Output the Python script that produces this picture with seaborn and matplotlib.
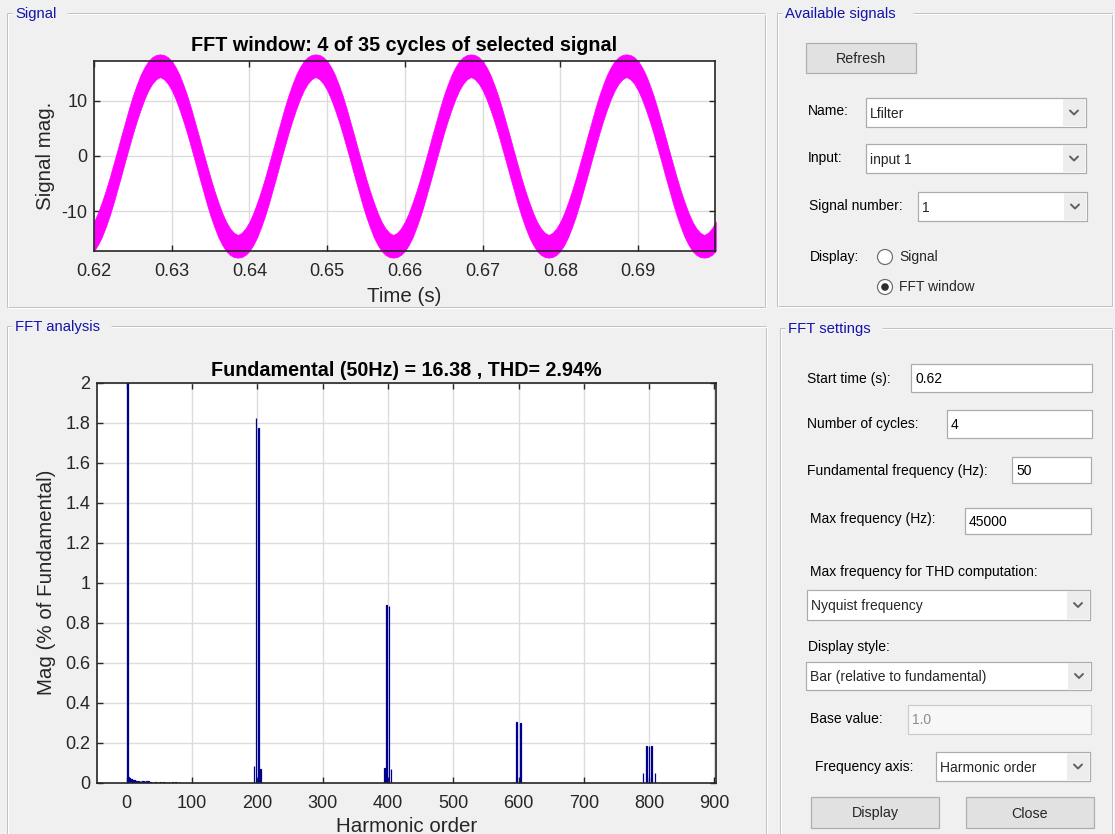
import numpy as np
import pandas as pd
import matplotlib
matplotlib.use("Agg")
import matplotlib.pyplot as plt
from matplotlib.patches import Rectangle, Circle
from matplotlib.ticker import FuncFormatter
import seaborn as sns

# ---- signal window: envelope of the ripple band, read every 0.5 ms ----
time_s = np.round(np.arange(0.620, 0.70025, 0.0005), 4)
sig_upper = [
    -11.9, -10.3, -8.4, -6.3, -4.0, -1.5, 1.0, 3.6, 6.1, 8.6, 10.9, 12.9, 14.7, 16.1, 17.2, 17.9, 18.3, 18.4, 18.3, 17.9,
    17.2, 16.1, 14.7, 12.9, 10.9, 8.6, 6.1, 3.6, 1.0, -1.5, -4.0, -6.3, -8.4, -10.3, -11.9, -13.1, -13.9, -14.3, -13.9, -13.1,
    -11.9, -10.3, -8.4, -6.3, -4.0, -1.5, 1.0, 3.6, 6.1, 8.6, 10.9, 12.9, 14.7, 16.1, 17.2, 17.9, 18.3, 18.4, 18.3, 17.9,
    17.2, 16.1, 14.7, 12.9, 10.9, 8.6, 6.1, 3.6, 1.0, -1.5, -4.0, -6.3, -8.4, -10.3, -11.9, -13.1, -13.9, -14.3, -13.9, -13.1,
    -11.9, -10.3, -8.4, -6.3, -4.0, -1.5, 1.0, 3.6, 6.1, 8.6, 10.9, 12.9, 14.7, 16.1, 17.2, 17.9, 18.3, 18.4, 18.3, 17.9,
    17.2, 16.1, 14.7, 12.9, 10.9, 8.6, 6.1, 3.6, 1.0, -1.5, -4.0, -6.3, -8.4, -10.3, -11.9, -13.1, -13.9, -14.3, -13.9, -13.1,
    -11.9, -10.3, -8.4, -6.3, -4.0, -1.5, 1.0, 3.6, 6.1, 8.6, 10.9, 12.9, 14.7, 16.1, 17.2, 17.9, 18.3, 18.4, 18.3, 17.9,
    17.2, 16.1, 14.7, 12.9, 10.9, 8.6, 6.1, 3.6, 1.0, -1.5, -4.0, -6.3, -8.4, -10.3, -11.9, -13.1, -13.9, -14.3, -13.9, -13.1,
    -11.9]
sig_lower = [
    -17.2, -16.1, -14.7, -12.9, -10.9, -8.6, -6.1, -3.6, -1.0, 1.5, 4.0, 6.3, 8.4, 10.3, 11.9, 13.1, 13.9, 14.3, 13.9, 13.1,
    11.9, 10.3, 8.4, 6.3, 4.0, 1.5, -1.0, -3.6, -6.1, -8.6, -10.9, -12.9, -14.7, -16.1, -17.2, -17.9, -18.3, -18.4, -18.3, -17.9,
    -17.2, -16.1, -14.7, -12.9, -10.9, -8.6, -6.1, -3.6, -1.0, 1.5, 4.0, 6.3, 8.4, 10.3, 11.9, 13.1, 13.9, 14.3, 13.9, 13.1,
    11.9, 10.3, 8.4, 6.3, 4.0, 1.5, -1.0, -3.6, -6.1, -8.6, -10.9, -12.9, -14.7, -16.1, -17.2, -17.9, -18.3, -18.4, -18.3, -17.9,
    -17.2, -16.1, -14.7, -12.9, -10.9, -8.6, -6.1, -3.6, -1.0, 1.5, 4.0, 6.3, 8.4, 10.3, 11.9, 13.1, 13.9, 14.3, 13.9, 13.1,
    11.9, 10.3, 8.4, 6.3, 4.0, 1.5, -1.0, -3.6, -6.1, -8.6, -10.9, -12.9, -14.7, -16.1, -17.2, -17.9, -18.3, -18.4, -18.3, -17.9,
    -17.2, -16.1, -14.7, -12.9, -10.9, -8.6, -6.1, -3.6, -1.0, 1.5, 4.0, 6.3, 8.4, 10.3, 11.9, 13.1, 13.9, 14.3, 13.9, 13.1,
    11.9, 10.3, 8.4, 6.3, 4.0, 1.5, -1.0, -3.6, -6.1, -8.6, -10.9, -12.9, -14.7, -16.1, -17.2, -17.9, -18.3, -18.4, -18.3, -17.9,
    -17.2]
sig_xticks = [0.62, 0.63, 0.64, 0.65, 0.66, 0.67, 0.68, 0.69]
sig_yticks = [-10, 0, 10]

# ---- FFT spectrum (% of fundamental) ----
harm_low = [1, 2, 3, 4, 5, 6, 7, 8, 9, 10, 11, 12, 13, 14, 15, 16, 18, 20, 22, 24, 26, 28, 30,
            33, 36, 40, 44, 48, 52, 56, 60, 65, 70, 75, 80]
mag_low = [100, 0.035, 0.030, 0.026, 0.022, 0.020, 0.018, 0.017, 0.016, 0.015, 0.014, 0.013, 0.012,
           0.011, 0.011, 0.010, 0.010, 0.009, 0.009, 0.008, 0.008, 0.007, 0.007, 0.007, 0.006, 0.006,
           0.005, 0.005, 0.005, 0.004, 0.004, 0.003, 0.003, 0.003, 0.002]
harm_sw = [195, 198, 202, 205, 395, 398, 402, 405, 593, 597, 603, 607, 791, 796, 800, 804, 809]
mag_sw = [0.085, 1.822, 1.772, 0.070, 0.075, 0.888, 0.885, 0.067, 0.006, 0.302, 0.297, 0.006,
          0.050, 0.183, 0.183, 0.182, 0.050]
fft_xticks = [0, 100, 200, 300, 400, 500, 600, 700, 800, 900]
fft_yticks = [0, 0.2, 0.4, 0.6, 0.8, 1.0, 1.2, 1.4, 1.6, 1.8, 2.0]

sns.set_theme(style="whitegrid")
plt.rcParams["font.family"] = ["Liberation Sans", "DejaVu Sans"]
plt.rcParams["axes.unicode_minus"] = False

BG = "#F0F0F0"
PANEL_BLUE = "#1414A8"
INK = "#262626"
PX = 0.72  # one pixel in points

fig = plt.figure(figsize=(11.15, 8.34), dpi=100)
fig.patch.set_facecolor(BG)

# overlay in pixel coordinates for the GUI chrome
ui = fig.add_axes([0, 0, 1, 1], zorder=0)
ui.set_xlim(0, 1115)
ui.set_ylim(834, 0)
ui.axis("off")


def panel(x0, y0, x1, y1, title, gap_end):
    for off, col in ((0, "#C2C2C2"), (1, "white")):
        kw = dict(color=col, lw=PX, solid_capstyle="butt")
        ui.plot([x0 + off, x0 + off], [y0 + off, y1], **kw)
        ui.plot([x1 + off, x1 + off], [y0 + off, y1], **kw)
        ui.plot([x0 + off, x1 + off], [y1 + off, y1 + off], **kw)
        ui.plot([x0 + off, x0 + 5], [y0 + off, y0 + off], **kw)
        ui.plot([gap_end, x1 + off], [y0 + off, y0 + off], **kw)
    ui.text(x0 + 8, y0 + 1, title, color=PANEL_BLUE, fontsize=10.7, va="center", ha="left")


def label(x, y, s):
    ui.text(x, y, s, fontsize=10, va="center", ha="left", color="black")


def button(x0, y0, x1, y1, s):
    ui.add_patch(Rectangle((x0, y0), x1 - x0, y1 - y0, facecolor="#E1E1E1",
                           edgecolor="#ADADAD", lw=PX * 1.2))
    ui.text((x0 + x1) / 2, (y0 + y1) / 2 + 1, s, fontsize=10.3, va="center", ha="center")


def editbox(x0, y0, x1, y1, s, enabled=True):
    face = "white" if enabled else "#F7F7F7"
    edge = "#ABABAB" if enabled else "#CCCCCC"
    ui.add_patch(Rectangle((x0, y0), x1 - x0, y1 - y0, facecolor=face, edgecolor=edge, lw=PX * 1.2))
    ui.text(x0 + 4, (y0 + y1) / 2 + 1, s, fontsize=10, va="center", ha="left",
            color="black" if enabled else "#8C8C8C")


def dropdown(x0, y0, x1, y1, s):
    ui.add_patch(Rectangle((x0, y0), x1 - x0, y1 - y0, facecolor="white", edgecolor="#ABABAB", lw=PX * 1.2))
    ui.add_patch(Rectangle((x1 - 23, y0 + 1), 22, y1 - y0 - 2, facecolor="#EDEDED", edgecolor="none"))
    cx, cy = x1 - 12, (y0 + y1) / 2
    ui.plot([cx - 4, cx, cx + 4], [cy - 2, cy + 2, cy - 2], color="#606060", lw=1.4)
    ui.text(x0 + 4, cy + 1, s, fontsize=10, va="center", ha="left")


def radio(cx, cy, s, on):
    ui.add_patch(Circle((cx, cy), 7.5, facecolor="white", edgecolor="#6E6E6E", lw=PX * 1.2))
    if on:
        ui.add_patch(Circle((cx, cy), 3.8, facecolor="#2E2E2E", edgecolor="none"))
    ui.text(cx + 14, cy, s, fontsize=10, va="center", ha="left")


panel(7, 13, 765, 307, "Signal", 67)
panel(777, 13, 1112, 306, "Available signals", 913)
panel(7, 326, 766, 850, "FFT analysis", 111)
panel(780, 328, 1112, 850, "FFT settings", 882)

button(806, 43, 916, 73, "Refresh")
label(808, 111, "Name:")
dropdown(866, 98, 1086, 127, "Lfilter")
label(808, 158, "Input:")
dropdown(866, 144, 1086, 173, "input 1")
label(809, 206, "Signal number:")
dropdown(918, 192, 1087, 221, "1")
label(810, 257, "Display:")
radio(885, 257, "Signal", False)
radio(885, 287, "FFT window", True)

label(807, 379, "Start time (s):")
editbox(911, 364, 1092, 392, "0.62")
label(807, 424, "Number of cycles:")
editbox(947, 410, 1092, 438, "4")
label(807, 471, "Fundamental frequency (Hz):")
editbox(1012, 457, 1091, 483, "50")
label(810, 519, "Max frequency (Hz):")
editbox(965, 508, 1091, 534, "45000")
label(810, 572, "Max frequency for THD computation:")
dropdown(807, 590, 1090, 620, "Nyquist frequency")
label(808, 647, "Display style:")
dropdown(806, 662, 1091, 690, "Bar (relative to fundamental)")
label(810, 719, "Base value:")
editbox(908, 705, 1091, 734, "1.0", enabled=False)
label(815, 767, "Frequency axis:")
dropdown(936, 752, 1090, 781, "Harmonic order")
button(811, 797, 939, 828, "Display")
button(966, 797, 1094, 828, "Close")


def matlab_axes(ax):
    ax.set_facecolor("white")
    for sp in ax.spines.values():
        sp.set_visible(True)
        sp.set_color(INK)
        sp.set_linewidth(1.2)
    ax.grid(True, color="#DCDCDC", linewidth=1.0)
    ax.set_axisbelow(True)
    ax.tick_params(axis="both", direction="in", length=4.5, width=1.0, colors=INK,
                   top=True, right=True, bottom=True, left=True, labelsize=13)
    ax.tick_params(axis="x", pad=8.8)
    ax.tick_params(axis="y", pad=4.6)


# ---- signal plot ----
ax1 = fig.add_axes([94 / 1115, 1 - 251 / 834, 621 / 1115, 190 / 834], zorder=2)
sig = pd.DataFrame({"t": np.concatenate([time_s, time_s]), "mag": sig_upper + sig_lower})
sns.lineplot(data=sig, x="t", y="mag", ax=ax1, color="#FF00FF", lw=1.0,
             estimator="mean", errorbar=("pi", 100),
             err_kws=dict(alpha=1, linewidth=0.5, edgecolor="#FF00FF", clip_on=False))
matlab_axes(ax1)
ax1.set_xlim(0.62, 0.6999)
ax1.set_ylim(-17.2, 17.2)
ax1.set_xticks(sig_xticks)
ax1.set_xticklabels([f"{v:.2f}" for v in sig_xticks])
ax1.set_yticks(sig_yticks)
ax1.set_yticklabels([str(v) for v in sig_yticks])
ax1.set_title("FFT window: 4 of 35 cycles of selected signal", fontsize=14.2,
              fontweight="bold", color="black", pad=7.2)
ax1.set_xlabel("Time (s)", fontsize=14.8, color=INK)
ax1.set_ylabel("Signal mag.", fontsize=14.8, color=INK)
ax1.xaxis.set_label_coords(0.5, -0.19)
ax1.yaxis.set_label_coords(-0.063, 0.5)

# ---- FFT bars ----
ax2 = fig.add_axes([96.7 / 1115, 1 - 782.7 / 834, 619 / 1115, 400 / 834], zorder=2)
fft = pd.DataFrame({"harmonic": harm_low + harm_sw, "mag": mag_low + mag_sw})
sns.barplot(data=fft, x="harmonic", y="mag", ax=ax2, native_scale=True, orient="x",
            color="#00008F", saturation=1, errorbar=None, edgecolor="#00008F", linewidth=0.9)
matlab_axes(ax2)
ax2.set_xlim(-46, 902)
ax2.set_ylim(0, 2)
ax2.set_xticks(fft_xticks)
ax2.set_xticklabels([str(v) for v in fft_xticks])
ax2.set_yticks(fft_yticks)
ax2.yaxis.set_major_formatter(FuncFormatter(lambda v, p: f"{v:g}"))
ax2.set_title("Fundamental (50Hz) = 16.38 , THD= 2.94%", fontsize=14.2,
              fontweight="bold", color="black", pad=4.5)
ax2.set_xlabel("Harmonic order", fontsize=14.8, color=INK)
ax2.set_ylabel("Mag (% of Fundamental)", fontsize=14.8, color=INK)
ax2.xaxis.set_label_coords(0.5, -0.085)
ax2.yaxis.set_label_coords(-0.066, 0.5)

fig.savefig("out.png", dpi=100, facecolor=BG)
